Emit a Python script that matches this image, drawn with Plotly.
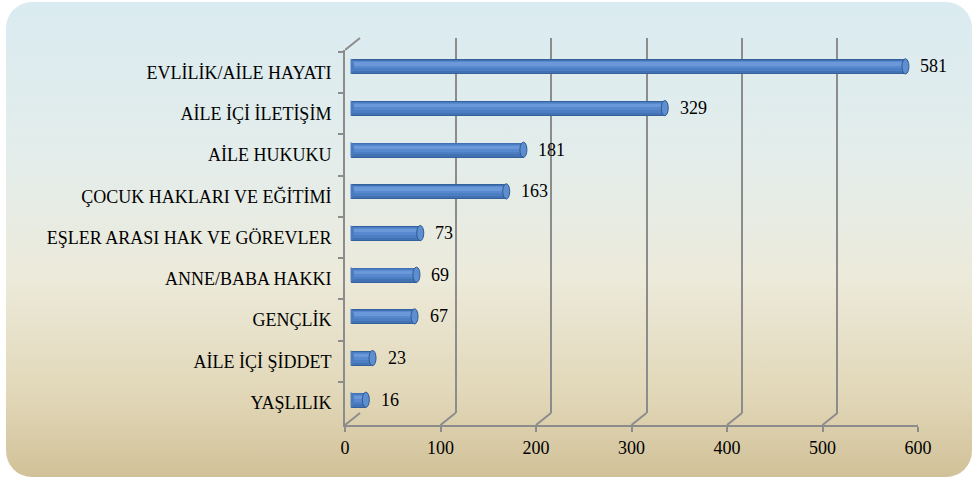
import base64
import plotly.graph_objects as go

# Topics and counts, listed from top to bottom
categories = [
    "EVLİLİK/AİLE HAYATI",
    "AİLE İÇİ İLETİŞİM",
    "AİLE HUKUKU",
    "ÇOCUK HAKLARI VE EĞİTİMİ",
    "EŞLER ARASI HAK VE GÖREVLER",
    "ANNE/BABA HAKKI",
    "GENÇLİK",
    "AİLE İÇİ ŞİDDET",
    "YAŞLILIK",
]
counts = [581, 329, 181, 163, 73, 69, 67, 23, 16]
x_ticks = [0, 100, 200, 300, 400, 500, 600]

W, H = 977, 479
FONT = "Liberation Serif"
GRID = "#8C8C8C"

# Pixel geometry of the pseudo-3D box: front face, bar plane and back wall
FRONT = dict(left=345, right=918, top=50, bottom=425)
DEPTH = (15, 12)          # back wall offset (right, up) in pixels
BAR_DEPTH = 0.37          # fraction of depth where the cylinders sit


def frame(f, k):
    dx, dy = DEPTH[0] * k, DEPTH[1] * k
    return dict(left=f["left"] + dx, right=f["right"] + dx,
                top=f["top"] - dy, bottom=f["bottom"] - dy)


def xdom(fr):
    return [fr["left"] / W, fr["right"] / W]


def ydom(fr):
    return [1 - fr["bottom"] / H, 1 - fr["top"] / H]


back = frame(FRONT, 1.0)
bars = frame(FRONT, BAR_DEPTH)
n = len(categories)
pos = list(range(n))
cat_px = (FRONT["bottom"] - FRONT["top"]) / n  # pixels per category band

fig = go.Figure()

# back wall (gridlines) -> x/y
fig.add_trace(go.Scatter(x=[0], y=[0], mode="markers", marker=dict(opacity=0),
                         hoverinfo="skip", showlegend=False, xaxis="x", yaxis="y"))

# cylinders -> x2/y2, built from stacked strips to get a rounded shading
strips = [  # (top px offset, bottom px offset, colour) relative to centre
    (-7.6, 7.6, "#34609B"),
    (-7.0, 6.4, "#4272B4"),
    (-6.2, 4.2, "#4C7EC3"),
    (-5.4, 1.4, "#5889CE"),
    (-4.6, -1.2, "#6A98D8"),
]
for t, b, col in strips:
    fig.add_trace(go.Bar(
        x=counts, y=pos, orientation="h",
        width=(b - t) / cat_px, offset=t / cat_px,
        marker=dict(color=col, line=dict(width=0)),
        hoverinfo="skip", showlegend=False, xaxis="x2", yaxis="y2",
    ))

# front face (axes, labels) -> x3/y3
fig.add_trace(go.Scatter(x=[0] * n, y=categories, mode="markers",
                         marker=dict(opacity=0), hoverinfo="skip",
                         showlegend=False, xaxis="x3", yaxis="y3"))

shapes = []
# cylinder ends: rounded back end and lit front cap
for v, i in zip(counts, pos):
    shapes.append(dict(type="circle", xref="x2", yref="y2",
                       xsizemode="pixel", ysizemode="pixel",
                       xanchor=0, yanchor=i, x0=-3.5, x1=3.5, y0=-7.6, y1=7.6,
                       fillcolor="#4A7BC0", line=dict(width=0),
                       layer="above"))
    shapes.append(dict(type="circle", xref="x2", yref="y2",
                       xsizemode="pixel", ysizemode="pixel",
                       xanchor=v, yanchor=i, x0=-3.5, x1=3.5, y0=-7.6, y1=7.6,
                       fillcolor="#5E8ED2", line=dict(color="#30598F", width=1),
                       layer="above"))

# floor diagonals joining front ticks to the back wall
for t in x_ticks:
    shapes.append(dict(type="line", xref="x3", yref="y3 domain",
                       xsizemode="pixel", ysizemode="pixel",
                       xanchor=t, yanchor=0, x0=0, x1=DEPTH[0], y0=0, y1=DEPTH[1],
                       line=dict(color=GRID, width=2), layer="below"))
# top-left diagonal of the side wall
shapes.append(dict(type="line", xref="x3", yref="y3 domain",
                   xsizemode="pixel", ysizemode="pixel",
                   xanchor=0, yanchor=1, x0=0, x1=DEPTH[0], y0=0, y1=DEPTH[1],
                   line=dict(color=GRID, width=2), layer="below"))

# value labels
annotations = [
    dict(x=v, y=i, xref="x2", yref="y2", text=str(v), showarrow=False,
         xanchor="left", xshift=13, font=dict(family=FONT, size=18, color="#000"))
    for v, i in zip(counts, pos)
]

# rounded card with vertical gradient behind the chart
svg = (
    f"<svg xmlns='http://www.w3.org/2000/svg' width='{W}' height='{H}' viewBox='0 0 {W} {H}'>"
    "<defs><linearGradient id='g' x1='0' y1='0' x2='0' y2='1'>"
    "<stop offset='0' stop-color='#DAEBF1'/>"
    "<stop offset='0.35' stop-color='#E4EDEA'/>"
    "<stop offset='0.58' stop-color='#ECEADA'/>"
    "<stop offset='0.82' stop-color='#E2D8B9'/>"
    "<stop offset='1' stop-color='#D1C198'/>"
    "</linearGradient></defs>"
    "<rect x='6' y='2' width='966' height='475' rx='26' ry='26' fill='url(#g)'/></svg>"
)
bg = "data:image/svg+xml;base64," + base64.b64encode(svg.encode()).decode()

hidden = dict(showgrid=False, zeroline=False, showline=False,
              showticklabels=False, ticks="", automargin=False)

fig.update_layout(
    width=W, height=H, autosize=False,
    margin=dict(l=0, r=0, t=0, b=0, pad=0),
    paper_bgcolor="white", plot_bgcolor="rgba(0,0,0,0)",
    barmode="overlay", bargap=0,
    font=dict(family=FONT, size=18, color="#000"),
    images=[dict(source=bg, xref="paper", yref="paper", x=0, y=1,
                 sizex=1, sizey=1, sizing="stretch", layer="below")],
    xaxis=dict(domain=xdom(back), range=[-0.01, 600.01], anchor="y",
               tickvals=x_ticks, showgrid=True, gridcolor=GRID, gridwidth=2,
               zeroline=False, showline=False, showticklabels=False, ticks="",
               automargin=False),
    yaxis=dict(domain=ydom(back), range=[0, 1], anchor="x", **hidden),
    xaxis2=dict(domain=xdom(bars), range=[0, 600], anchor="y2", **hidden),
    yaxis2=dict(domain=ydom(bars), range=[n - 0.5, -0.5], anchor="x2", **hidden),
    xaxis3=dict(domain=xdom(FRONT), range=[0, 600], anchor="y3",
                tickvals=x_ticks, ticks="outside", ticklen=5, tickwidth=2,
                tickcolor=GRID, showline=True, linecolor=GRID, linewidth=2,
                showgrid=False, zeroline=False, automargin=False,
                tickfont=dict(family=FONT, size=18, color="#000")),
    yaxis3=dict(domain=ydom(FRONT), type="category", categoryorder="array",
                categoryarray=categories, autorange="reversed", anchor="x3",
                tickson="boundaries", ticks="outside", ticklen=5, tickwidth=2,
                tickcolor=GRID, showline=True, linecolor=GRID, linewidth=2,
                showgrid=False, zeroline=False, ticklabelstandoff=8,
                automargin=False,
                tickfont=dict(family=FONT, size=18, color="#000")),
    shapes=shapes,
    annotations=annotations,
)

fig.write_html("out.html")
